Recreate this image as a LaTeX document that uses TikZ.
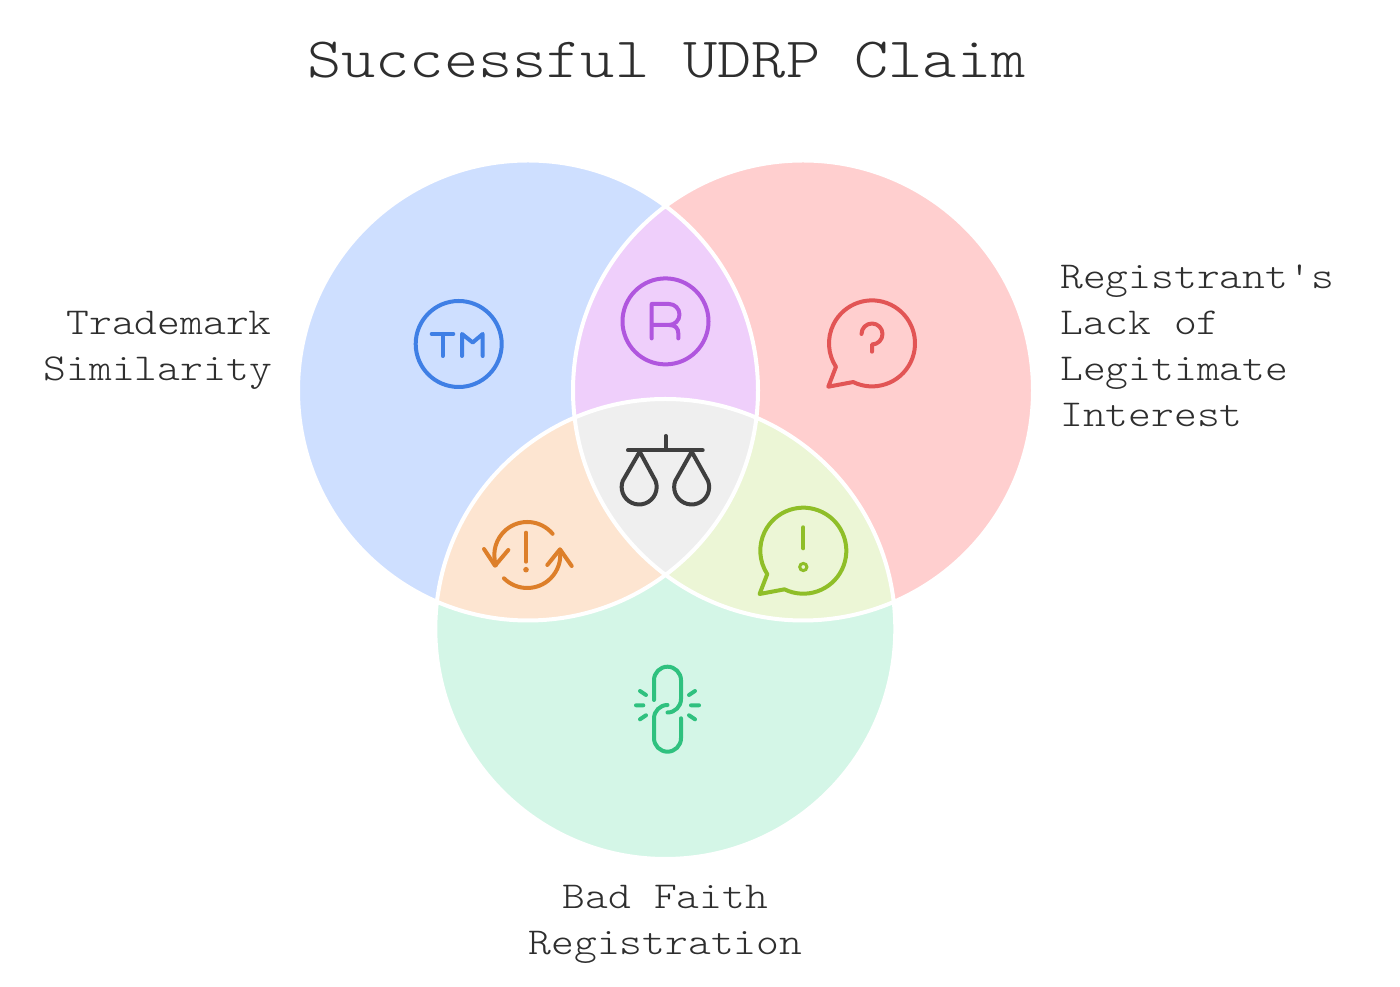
\documentclass[tikz,border=0pt]{standalone}
\usepackage{fontspec}
\setmonofont[FakeStretch=1.143]{Latin Modern Mono Light}
\definecolor{inkText}{HTML}{2E2E2E}
\definecolor{setBlue}{HTML}{CEDFFF}
\definecolor{setRed}{HTML}{FFCFCF}
\definecolor{setGreen}{HTML}{D4F6E7}
\definecolor{mixPurple}{HTML}{EFCFFB}
\definecolor{mixOrange}{HTML}{FDE5D1}
\definecolor{mixLime}{HTML}{ECF6D6}
\definecolor{mixGrey}{HTML}{EFEFEF}
\definecolor{iconBlue}{HTML}{3F7FE5}
\definecolor{iconPurple}{HTML}{B056DE}
\definecolor{iconRed}{HTML}{E25555}
\definecolor{iconLime}{HTML}{8FBE28}
\definecolor{iconOrange}{HTML}{DD7F2A}
\definecolor{iconGreen}{HTML}{2FC17F}
\definecolor{iconGrey}{HTML}{3F3F3F}
\tikzset{
  x=1pt,y=1pt,
  iconline/.style={line width=4pt,line cap=round,line join=round},
  titletext/.style={font=\ttfamily\fontsize{57}{60}\selectfont,text=inkText,inner sep=0pt},
  labeltext/.style={font=\ttfamily\fontsize{38}{46}\selectfont,text=inkText,inner sep=0pt},
  bubble/.pic={
    \draw[iconline] (244:43) arc (244:573:43) -- (-43.7,-43.3) -- cycle;
  }
}
% the three sets, centred in a picture 987 units high
\def\blueC{(528,596.5)}
\def\redC{(803,596.5)}
\def\greenC{(665.3,358)}
\def\rad{230}
\begin{document}
\begin{tikzpicture}
\useasboundingbox (0,0) rectangle (1400,987);
\fill[white] (0,0) rectangle (1400,987);

% set discs
\fill[setBlue] \blueC circle (\rad);
\fill[setRed] \redC circle (\rad);
\fill[setGreen] \greenC circle (\rad);

% pairwise overlaps
\begin{scope}\clip \blueC circle (\rad); \fill[mixPurple] \redC circle (\rad);\end{scope}
\begin{scope}\clip \blueC circle (\rad); \fill[mixOrange] \greenC circle (\rad);\end{scope}
\begin{scope}\clip \redC circle (\rad); \fill[mixLime] \greenC circle (\rad);\end{scope}
% triple overlap
\begin{scope}\clip \blueC circle (\rad); \clip \redC circle (\rad); \fill[mixGrey] \greenC circle (\rad);\end{scope}

% white outlines separating the regions
\draw[white,line width=4pt] \blueC circle (\rad) \redC circle (\rad) \greenC circle (\rad);

% trademark icon
\begin{scope}[shift={(458.7,643)},color=iconBlue]
  \draw[iconline] (0,0) circle (43);
  \draw[iconline] (-27,10) -- (-5.4,10) (-16,10) -- (-16,-12);
  \draw[iconline] (3.3,-12) -- (3.3,10) -- (14,1.5) -- (24,10) -- (24,-12);
\end{scope}

% registered icon
\begin{scope}[shift={(665.5,665.6)},color=iconPurple]
  \draw[iconline] (0,0) circle (43);
  \draw[iconline] (-13.8,-17) -- (-13.8,17.4) -- (3.5,17.4) arc (90:-90:10.5) -- (-13.8,-3.6);
  \draw[iconline] (3.5,-3.6) .. controls (10,-3.6) and (12.8,-7) .. (12.8,-12) -- (12.8,-17);
\end{scope}

% question bubble
\begin{scope}[shift={(872,643.6)},color=iconRed]
  \pic {bubble};
  \draw[iconline] (-10.5,9.4) arc (180:-90:10.5) -- (0,-8.3);
\end{scope}

% exclamation bubble
\begin{scope}[shift={(803.3,436.3)},color=iconLime]
  \pic {bubble};
  \draw[iconline] (0,23.4) -- (0,2.4);
  \draw[line width=3pt] (0,-16.3) circle (3.6);
\end{scope}

% balance scale
\begin{scope}[shift={(665.7,517)},color=iconGrey]
  \draw[iconline] (0,34) -- (0,20) (-37.7,19.7) -- (37,19.7);
  \draw[iconline] (-26,18.3) -- (-10.1,-11) arc (20:-200:17.5) -- cycle;
  \draw[iconline] (26,18.3) -- (42.4,-11) arc (20:-200:17.5) -- cycle;
\end{scope}

% warning cycle icon
\begin{scope}[shift={(527.3,432)},color=iconOrange]
  \draw[iconline] (40:33) arc (40:198:33);
  \draw[iconline] (225:33) arc (225:369:33);
  \draw[iconline] (-43.3,6) -- (-32.3,-10.7) -- (-19,5);
  \draw[iconline] (20,-10) -- (32.7,5.7) -- (44.4,-11);
  \draw[iconline] (-1.3,22.3) -- (-1.3,-6.7);
  \fill (-1.3,-14.7) circle (2.8);
\end{scope}

% broken link icon
\begin{scope}[color=iconGreen]
  \draw[iconline] (654,287) -- (654,306.8) arc (180:0:13.5) -- (681,288) arc (0:-90:13.5);
  \draw[iconline] (667.5,282) arc (90:180:13.5) -- (654,248.8) arc (180:360:13.5) -- (681,268.7);
  \draw[iconline] (640,296) -- (646,292) (636,281.7) -- (643.3,281.7) (640,267.7) -- (646,271.7);
  \draw[iconline] (695,296) -- (689,292) (691,281.7) -- (699,281.7) (695,267.7) -- (689,271.7);
\end{scope}

% texts
\node[titletext] (title) at (666.5,927) {Successful UDRP Claim};
\node[labeltext,align=right,anchor=east] (trademark) at (272,637) {Trademark\\Similarity};
\node[labeltext,align=left,anchor=west] (interest) at (1060,641) {Registrant's\\Lack of\\Legitimate\\Interest};
\node[labeltext,align=center] (badfaith) at (665.5,63) {Bad Faith\\Registration};
\end{tikzpicture}
\end{document}
